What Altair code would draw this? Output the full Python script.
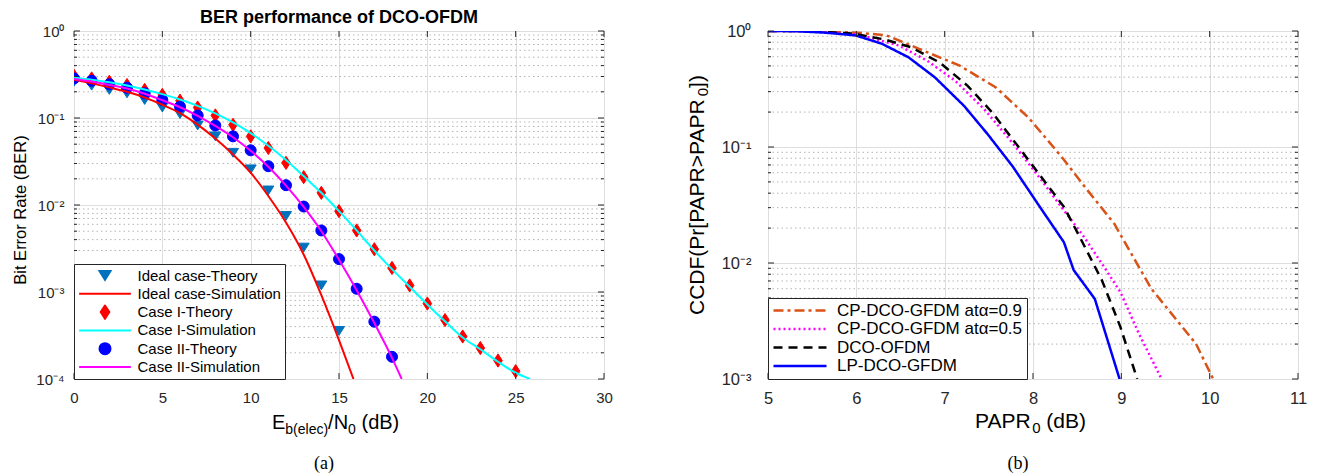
import altair as alt
import pandas as pd

# ---------------- (a) BER performance of DCO-OFDM ----------------
ebno_ideal_th = list(range(0, 16))
ber_ideal_th = [0.261, 0.235, 0.21, 0.192, 0.161, 0.132, 0.111, 0.082, 0.0615, 0.0398,
                0.0257, 0.0147, 0.0075, 0.00324, 0.00119, 0.000357]

ebno_ideal_sim = list(range(0, 16)) + [15.82]
ber_ideal_sim = [0.275, 0.25, 0.225, 0.2, 0.172, 0.142, 0.114, 0.084, 0.058, 0.038,
                 0.0235, 0.0127, 0.0063, 0.0027, 0.00092, 0.00028, 0.0001]

ebno_case1_th = list(range(0, 26))
ber_case1_th = [0.306, 0.285, 0.261, 0.239, 0.21, 0.184, 0.158, 0.132, 0.107, 0.0835,
                0.0615, 0.0452, 0.0305, 0.0209, 0.0138, 0.0085, 0.0051, 0.0031, 0.00189,
                0.00119, 0.000737, 0.000476, 0.000308, 0.000227, 0.000163, 0.000123]

ebno_case1_sim = list(range(0, 26)) + [25.82]
ber_case1_sim = [0.29, 0.275, 0.257, 0.237, 0.213, 0.188, 0.163, 0.138, 0.113, 0.089,
                 0.067, 0.048, 0.033, 0.0215, 0.0138, 0.0085, 0.0051, 0.003, 0.00183,
                 0.00115, 0.00072, 0.00046, 0.0003, 0.00022, 0.000158, 0.000118, 0.0001]

ebno_case2_th = list(range(0, 19))
ber_case2_th = [0.285, 0.268, 0.244, 0.223, 0.192, 0.161, 0.135, 0.107, 0.082, 0.0615,
                0.0425, 0.0279, 0.0169, 0.0096, 0.0051, 0.00239, 0.00109, 0.000456, 0.00018]

ebno_case2_sim = list(range(0, 19)) + [18.55]
ber_case2_sim = [0.28, 0.262, 0.24, 0.218, 0.19, 0.16, 0.133, 0.106, 0.081, 0.06,
                 0.042, 0.0275, 0.0167, 0.0095, 0.005, 0.00235, 0.00105, 0.00044, 0.000175, 0.0001]

series_a = ["Ideal case-Theory", "Ideal case-Simulation", "Case I-Theory",
            "Case I-Simulation", "Case II-Theory", "Case II-Simulation"]
colors_a = ["#0072BD", "#FF0000", "#FF0000", "#00FFFF", "#0000FF", "#FF00FF"]

# ---------------- (b) CCDF of PAPR ----------------
papr_cp09 = [5.0, 5.5, 6.015, 6.34, 6.71, 7.17, 7.58, 7.95, 8.32, 8.60, 8.92, 9.34, 9.845, 10.04]
ccdf_cp09 = [1.0, 0.999, 0.967, 0.917, 0.702, 0.503, 0.326, 0.179, 0.083, 0.044, 0.0218,
             0.006, 0.00201, 0.001]

papr_cp05 = [5.0, 5.5, 6.015, 6.48, 6.80, 7.12, 7.45, 7.77, 8.05, 8.32, 8.58, 8.83, 8.99, 9.20, 9.455]
ccdf_cp05 = [1.0, 0.998, 0.936, 0.75, 0.556, 0.372, 0.211, 0.108, 0.0575, 0.0305, 0.0167,
             0.00865, 0.0056, 0.00245, 0.001]

papr_dco = [5.0, 5.5, 5.97, 6.315, 6.615, 6.94, 7.26, 7.54, 7.815, 8.09, 8.35, 8.53, 8.78, 8.99, 9.18]
ccdf_dco = [1.0, 0.998, 0.948, 0.847, 0.726, 0.537, 0.337, 0.198, 0.105, 0.0556, 0.0305,
            0.0167, 0.0071, 0.0028, 0.001]

papr_lp = [5.0, 5.3, 5.65, 5.99, 6.29, 6.59, 6.89, 7.22, 7.49, 7.77, 8.09, 8.35, 8.46, 8.70, 8.98]
ccdf_lp = [1.0, 0.997, 0.967, 0.917, 0.776, 0.594, 0.398, 0.226, 0.128, 0.068, 0.0295,
           0.0151, 0.0087, 0.0049, 0.001]

series_b = ["CP-DCO-GFDM at\u03b1=0.9", "CP-DCO-GFDM at\u03b1=0.5", "DCO-OFDM", "LP-DCO-GFDM"]
colors_b = ["#D95319", "#FF00FF", "#000000", "#0000FF"]
dashes_b = [[10, 4, 3, 4], [2, 3], [9, 6], [1, 0]]

# tick / grid positions
xticks_a = [0, 5, 10, 15, 20, 25, 30]
yticks_a = [1, 0.1, 0.01, 0.001, 0.0001]
xticks_b = [5, 6, 7, 8, 9, 10, 11]
yticks_b = [1, 0.1, 0.01, 0.001]
minor_a = [m * 10.0 ** k for k in (-4, -3, -2, -1) for m in range(2, 10)]
minor_b = [m * 10.0 ** k for k in (-3, -2, -1) for m in range(2, 10)]

# ---------------- styling ----------------
W, H = 530, 348
FONT = "Liberation Sans"
INK = "#262626"
GRID = "#dedede"
MINOR = "#b4b4b4"

LINE_PATH = "M-4.7,0L4.7,0"
TRI_PATH = "M-1,-0.8L1,-0.8L0,0.8Z"
DIA_PATH = "M0,-1.2L0.78,0L0,1.2L-0.78,0Z"
CIR_PATH = "M1,0A1,1,0,1,1,-1,0A1,1,0,1,1,1,0Z"
shapes_a = [TRI_PATH, LINE_PATH, DIA_PATH, LINE_PATH, CIR_PATH, LINE_PATH]

SUP = ("datum.value > 0.5 ? '10\u2070' : datum.value > 0.05 ? '10\u207b\u00b9' : "
       "datum.value > 0.005 ? '10\u207b\u00b2' : datum.value > 0.0005 ? '10\u207b\u00b3' : '10\u207b\u2074'")


def frame(name, xs, ys):
    return pd.DataFrame({"series": name, "x": xs, "y": ys})


def label(text, x, y, size, angle=0, align="left", baseline="alphabetic",
          font=FONT, weight="normal"):
    return alt.Chart(pd.DataFrame({"t": [text]})).mark_text(
        font=font, fontSize=size, angle=angle, align=align, baseline=baseline,
        color="black", fontWeight=weight
    ).encode(text="t:N", x=alt.value(x), y=alt.value(y))


def tick_layers(xvals, yvals, minors, xs, ys, ax_x, ax_y):
    out = []
    dfx = pd.DataFrame({"v": xvals})
    dfy = pd.DataFrame({"v": yvals})
    dfm = pd.DataFrame({"v": minors})
    for y0, y1 in ((H, H - 6), (0, 6)):
        out.append(alt.Chart(dfx).mark_rule(color=INK, strokeWidth=1).encode(
            x=alt.X("v:Q", scale=xs, axis=ax_x), y=alt.value(y0), y2=alt.value(y1)))
    for df, ln in ((dfy, 6), (dfm, 3)):
        for x0, x1 in ((0, ln), (W - ln, W)):
            out.append(alt.Chart(df).mark_rule(color=INK, strokeWidth=1).encode(
                y=alt.Y("v:Q", scale=ys, axis=ax_y), x=alt.value(x0), x2=alt.value(x1)))
    return out


def minor_grid(minors, ys, ax_y):
    return alt.Chart(pd.DataFrame({"v": minors})).mark_rule(
        color=MINOR, strokeWidth=1, strokeDash=[1.5, 3]
    ).encode(y=alt.Y("v:Q", scale=ys, axis=ax_y), x=alt.value(0), x2=alt.value(W))


# ---------------- panel (a) ----------------
xs_a = alt.Scale(domain=[0, 30], nice=False, zero=False)
ys_a = alt.Scale(type="log", domain=[1e-4, 1], nice=False)
ax_xa = alt.Axis(values=xticks_a, title=None, grid=True, gridColor=GRID, ticks=False,
                 domain=False, labelFont=FONT, labelFontSize=15, labelColor=INK,
                 labelPadding=11, labelFlush=False, labelOverlap=False)
ax_ya = alt.Axis(values=yticks_a, labelExpr=SUP, title=None, grid=True, gridColor=GRID,
                 ticks=False, domain=False, labelFont=FONT, labelFontSize=15,
                 labelColor=INK, labelPadding=10, labelOverlap=False, labelFlush=False)

th_a = pd.concat([frame(series_a[0], ebno_ideal_th, ber_ideal_th),
                  frame(series_a[2], ebno_case1_th, ber_case1_th),
                  frame(series_a[4], ebno_case2_th, ber_case2_th)])
sim_a = pd.concat([frame(series_a[1], ebno_ideal_sim, ber_ideal_sim),
                   frame(series_a[3], ebno_case1_sim, ber_case1_sim),
                   frame(series_a[5], ebno_case2_sim, ber_case2_sim)])

leg_a = alt.Legend(title=None, orient="bottom-left", offset=0, padding=4,
                   strokeColor=INK, fillColor="white", labelFont=FONT, labelFontSize=15,
                   labelColor="black", labelLimit=400, symbolSize=121, symbolStrokeWidth=2,
                   symbolOffset=19.5, labelOffset=25, rowPadding=2.3, clipHeight=15,
                   symbolOpacity=1)

pts_a = alt.Chart(th_a).mark_point(filled=True, size=121, opacity=1, strokeWidth=1, clip=True).encode(
    x=alt.X("x:Q", scale=xs_a, axis=ax_xa),
    y=alt.Y("y:Q", scale=ys_a, axis=ax_ya),
    fill=alt.Fill("series:N", scale=alt.Scale(domain=series_a, range=colors_a), legend=leg_a),
    stroke=alt.Stroke("series:N", scale=alt.Scale(domain=series_a, range=colors_a), legend=leg_a),
    shape=alt.Shape("series:N", scale=alt.Scale(domain=series_a, range=shapes_a), legend=leg_a),
)
lines_a = alt.Chart(sim_a).mark_line(strokeWidth=2, interpolate="monotone", clip=True).encode(
    x=alt.X("x:Q", scale=xs_a, axis=ax_xa),
    y=alt.Y("y:Q", scale=ys_a, axis=ax_ya),
    color=alt.Color("series:N", scale=alt.Scale(domain=[series_a[1], series_a[3], series_a[5]],
                                                range=[colors_a[1], colors_a[3], colors_a[5]]),
                    legend=None),
)

texts_a = [
    label("BER performance of DCO-OFDM", W / 2, -13.5, 18, align="center",
          baseline="middle", weight="bold"),
    label("E", 198, H + 50, 20),
    label("b(elec)", 211.3, H + 55, 14),
    label("/N", 254.1, H + 50, 20),
    label("0", 274.1, H + 55, 14),
    label("(dB)", 287.5, H + 50, 20),
    label("Bit Error Rate (BER)", -53, 179, 16.5, angle=270, align="center", baseline="middle"),
    label("(a)", 250, H + 85, 18, align="center", baseline="middle", font="Liberation Serif"),
]

left = alt.layer(
    minor_grid(minor_a, ys_a, ax_ya), pts_a, lines_a,
    *tick_layers(xticks_a, yticks_a, minor_a, xs_a, ys_a, ax_xa, ax_ya),
    *texts_a,
).properties(width=W, height=H)

# ---------------- panel (b) ----------------
xs_b = alt.Scale(domain=[5, 11], nice=False, zero=False)
ys_b = alt.Scale(type="log", domain=[1e-3, 1], nice=False)
ax_xb = alt.Axis(values=xticks_b, title=None, grid=True, gridColor=GRID, ticks=False,
                 domain=False, labelFont=FONT, labelFontSize=16.5, labelColor=INK,
                 labelPadding=11, labelFlush=False, labelOverlap=False)
ax_yb = alt.Axis(values=yticks_b, labelExpr=SUP, title=None, grid=True, gridColor=GRID,
                 ticks=False, domain=False, labelFont=FONT, labelFontSize=16.5,
                 labelColor=INK, labelPadding=17, labelOverlap=False, labelFlush=False)

curves_b = pd.concat([frame(series_b[0], papr_cp09, ccdf_cp09),
                      frame(series_b[1], papr_cp05, ccdf_cp05),
                      frame(series_b[2], papr_dco, ccdf_dco),
                      frame(series_b[3], papr_lp, ccdf_lp)])

leg_b = alt.Legend(title=None, orient="bottom-left", offset=0, padding=4,
                   strokeColor=INK, fillColor="white", labelFont=FONT, labelFontSize=17,
                   labelColor="black", labelLimit=400, symbolType="stroke", symbolSize=2809,
                   symbolStrokeWidth=2.5, labelOffset=9, rowPadding=0.5, clipHeight=17)

lines_b = alt.Chart(curves_b).mark_line(strokeWidth=2.5, clip=True).encode(
    x=alt.X("x:Q", scale=xs_b, axis=ax_xb),
    y=alt.Y("y:Q", scale=ys_b, axis=ax_yb),
    color=alt.Color("series:N", scale=alt.Scale(domain=series_b, range=colors_b), legend=leg_b),
    strokeDash=alt.StrokeDash("series:N", scale=alt.Scale(domain=series_b, range=dashes_b), legend=leg_b),
)

texts_b = [
    label("PAPR", 207, H + 49, 21),
    label("0", 264.2, H + 54, 15),
    label("(dB)", 278.3, H + 49, 21),
    label("CCDF(Pr[PAPR>PAPR", -63.6, 284, 21, angle=270),
    label("0", -59.6, 65.2, 15, angle=270),
    label("])", -63.6, 56.9, 21, angle=270),
    label("(b)", 250, H + 85, 18, align="center", baseline="middle", font="Liberation Serif"),
]

right = alt.layer(
    minor_grid(minor_b, ys_b, ax_yb), lines_b,
    *tick_layers(xticks_b, yticks_b, minor_b, xs_b, ys_b, ax_xb, ax_yb),
    *texts_b,
).properties(width=W, height=H)

chart = alt.hconcat(left, right, spacing=164, bounds="flush").resolve_scale(
    x="independent", y="independent", color="independent", strokeDash="independent",
    fill="independent", stroke="independent", shape="independent"
).properties(
    padding={"left": 4, "top": 0, "right": 5, "bottom": 0}
).configure_view(stroke=INK, strokeWidth=1).configure(font=FONT)

chart.save("out.html", embed_options={"renderer": "svg", "actions": False})
